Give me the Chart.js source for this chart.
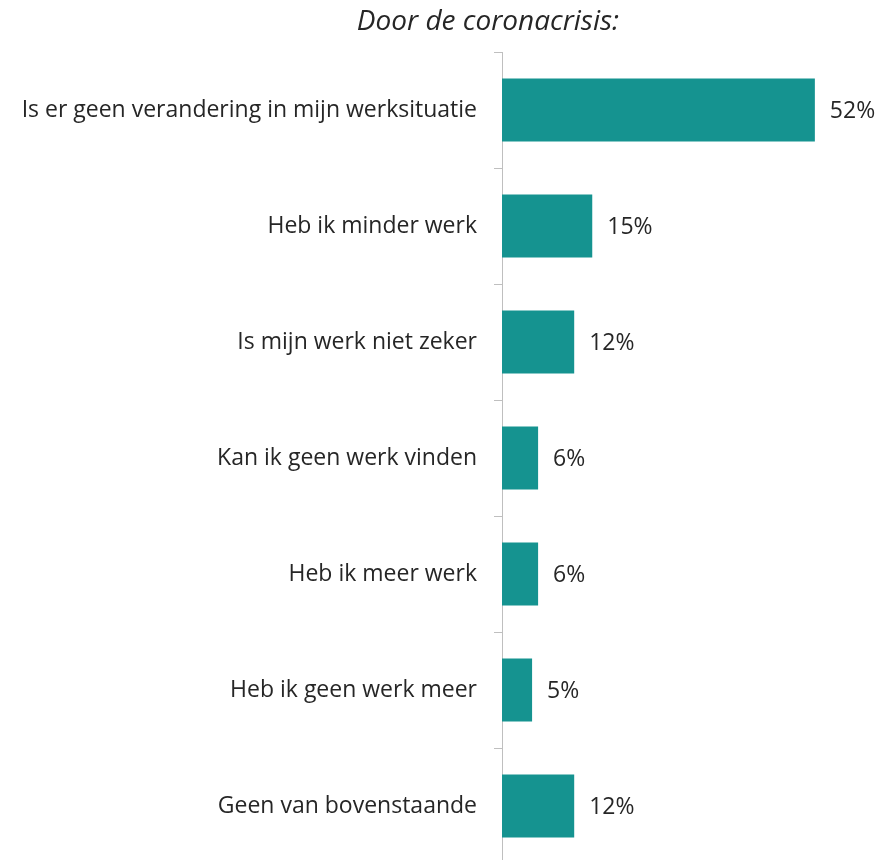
<!DOCTYPE html>
<html>
<head>
<meta charset="utf-8">
<script src="https://cdn.jsdelivr.net/npm/chart.js@4"></script>
<style>
    html, body { margin: 0; padding: 0; background: #fff; overflow: hidden; }
    #wrap { position: relative; width: 882px; height: 864px; }
    #title {
        position: absolute; left: 0; top: 0px; width: 976px; text-align: center;
        font-family: "Open Sans", sans-serif; font-style: italic; font-size: 28px; color: #262626;
    }
    #myChart { position: absolute; left: 0; top: 0; }
</style>
</head>
<body>
<div id="wrap">
    <canvas id="myChart" width="882" height="864"></canvas>
    <div id="title">Door de coronacrisis:</div>
</div>
<script>
var categories = [
    "Is er geen verandering in mijn werksituatie",
    "Heb ik minder werk",
    "Is mijn werk niet zeker",
    "Kan ik geen werk vinden",
    "Heb ik meer werk",
    "Heb ik geen werk meer",
    "Geen van bovenstaande"
];
var percentages = [52, 15, 12, 6, 6, 5, 12];

var barColor = "#159390";
var textColor = "#262626";
var axisColor = "#bfbfbf";
var fontFamily = "Open Sans";

// value labels to the right of each bar
var valueLabels = {
    id: 'valueLabels',
    afterDatasetsDraw: function(chart) {
        var ctx = chart.ctx;
        var meta = chart.getDatasetMeta(0);
        ctx.save();
        ctx.font = "23px '" + fontFamily + "'";
        ctx.fillStyle = textColor;
        ctx.textAlign = 'left';
        ctx.textBaseline = 'middle';
        meta.data.forEach(function(bar, i) {
            ctx.fillText(percentages[i] + "%", bar.x + 15, bar.y + 1);
        });
        ctx.restore();
    }
};

var ctx = document.getElementById("myChart");
var myChart = new Chart(ctx, {
    type: 'bar',
    data: {
        labels: categories,
        datasets: [{
            data: percentages,
            backgroundColor: barColor,
            borderWidth: 0,
            categoryPercentage: 1,
            barPercentage: 0.545
        }]
    },
    options: {
        indexAxis: 'y',
        responsive: false,
        devicePixelRatio: 1,
        animation: false,
        layout: {
            padding: { top: 52, right: 19, bottom: 0, left: 0 }
        },
        plugins: {
            legend: { display: false },
            tooltip: { enabled: false }
        },
        scales: {
            x: {
                display: false,
                min: 0,
                max: 60
            },
            y: {
                afterFit: function(scale) {
                    scale.width = 502;
                    // labels sit in the middle of their band, no extra room needed
                    scale.paddingTop = 0;
                    scale.paddingBottom = 0;
                },
                border: { display: true, color: axisColor, width: 1 },
                grid: {
                    display: true,
                    offset: true,
                    drawOnChartArea: false,
                    drawTicks: true,
                    tickLength: 8,
                    color: axisColor
                },
                ticks: {
                    padding: 17,
                    color: textColor,
                    font: { family: fontFamily, size: 23 }
                }
            }
        }
    },
    plugins: [valueLabels]
});
</script>
</body>
</html>
